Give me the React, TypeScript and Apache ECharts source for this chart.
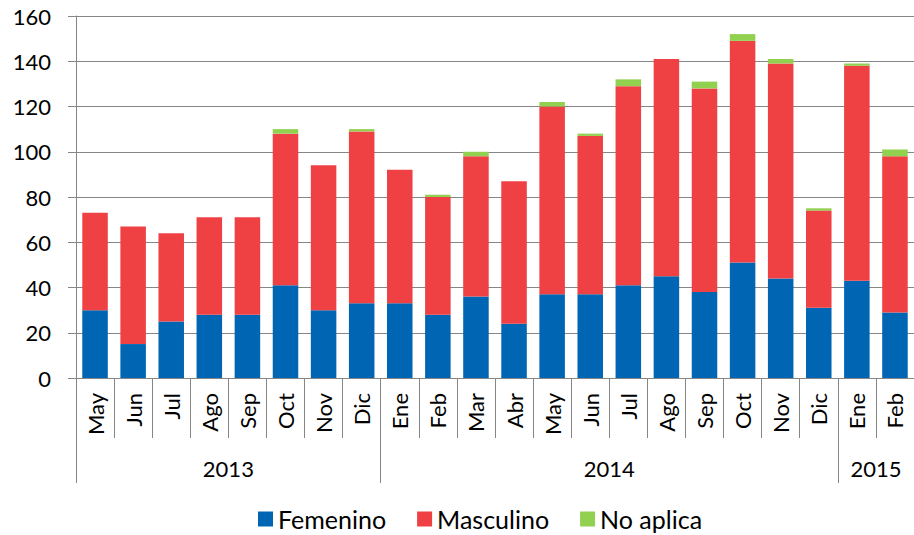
import React, { useEffect, useRef } from "react";
import * as echarts from "echarts";

const months = ["May","Jun","Jul","Ago","Sep","Oct","Nov","Dic","Ene","Feb","Mar","Abr","May","Jun","Jul","Ago","Sep","Oct","Nov","Dic","Ene","Feb"];
const years = ["2013", "2014", "2015"];
const monthsPerYear = [8, 12, 2];
const femenino = [30,15,25,28,28,41,30,33,33,28,36,24,37,37,41,45,38,51,44,31,43,29];
const masculino = [43,52,39,43,43,67,64,76,59,52,62,63,83,70,88,96,90,98,95,43,95,69];
const noAplica = [0,0,0,0,0,2,0,1,0,1,2,0,2,1,3,0,3,3,2,1,1,3];
const yTicks = { min: 0, max: 160, interval: 20 };

const FONT = "Lato, 'Open Sans', sans-serif";
const GRAY = "#868686";

export default function App() {
  const ref = useRef<HTMLDivElement>(null);
  useEffect(() => {
    if (!ref.current) return;
    const chart = echarts.init(ref.current, undefined, { renderer: "svg" });
    const bounds: number[] = [];
    const centers: number[] = [];
    let acc = 0;
    monthsPerYear.forEach((n) => {
      bounds.push(acc);
      centers.push(acc + n / 2);
      acc += n;
    });
    chart.setOption({
      animation: false,
      textStyle: { fontFamily: FONT },
      grid: { left: 76, top: 16, width: 847.5, height: 362 },
      legend: {
        top: 501,
        left: 253,
        padding: 5,
        itemWidth: 15,
        itemHeight: 15,
        itemGap: 31,
        icon: "rect",
        textStyle: { fontSize: 25, color: "#000", fontFamily: FONT, lineHeight: 26 },
        data: ["Femenino", "Masculino", "No aplica"],
      },
      xAxis: [
        {
          type: "category",
          data: months,
          axisLine: { lineStyle: { color: GRAY, width: 1 } },
          axisTick: { show: true, interval: 0, length: 60, lineStyle: { color: GRAY } },
          axisLabel: {
            interval: 0,
            rotate: 90,
            margin: 15,
            fontSize: 22,
            color: "#000",
            fontFamily: FONT,
          },
        },
        {
          type: "value",
          position: "bottom",
          min: 0,
          max: months.length,
          axisLine: { show: false },
          splitLine: { show: false },
          axisTick: {
            show: true,
            customValues: bounds,
            length: 105,
            lineStyle: { color: GRAY },
          },
          axisLabel: {
            customValues: centers,
            margin: 79,
            fontSize: 22,
            color: "#000",
            fontFamily: FONT,
            formatter: (v: number) => {
              const i = centers.findIndex((c) => Math.abs(c - v) < 1e-6);
              return i >= 0 ? years[i] : "";
            },
          },
        },
      ],
      yAxis: {
        type: "value",
        min: yTicks.min,
        max: yTicks.max,
        interval: yTicks.interval,
        axisLine: { show: true, lineStyle: { color: GRAY } },
        axisTick: { show: true, length: 8, lineStyle: { color: GRAY } },
        splitLine: { show: true, lineStyle: { color: GRAY, width: 1 } },
        axisLabel: { margin: 25, fontSize: 22, color: "#000", fontFamily: FONT },
      },
      series: [
        { name: "Femenino", type: "bar", stack: "t", data: femenino, barCategoryGap: "33%", itemStyle: { color: "#0066B3" } },
        { name: "Masculino", type: "bar", stack: "t", data: masculino, barCategoryGap: "33%", itemStyle: { color: "#EF4044" } },
        { name: "No aplica", type: "bar", stack: "t", data: noAplica, barCategoryGap: "33%", itemStyle: { color: "#92D050" } },
      ],
    });
    return () => chart.dispose();
  }, []);
  return <div ref={ref} style={{ width: 914, height: 535, position: "absolute", left: 0, top: 0 }} />;
}
